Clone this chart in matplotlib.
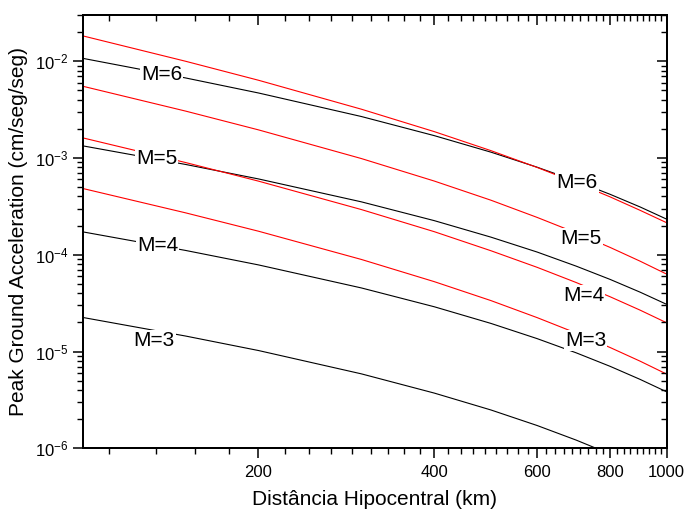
import numpy as np
import matplotlib
matplotlib.use("Agg")
import matplotlib.pyplot as plt
from matplotlib.ticker import FixedLocator, NullFormatter, LogLocator, LogFormatterSciNotation

plt.rcParams['font.family'] = ['Liberation Sans', 'DejaVu Sans']
plt.rcParams['mathtext.default'] = 'regular'

# ---- data ----
distance_km = [100, 150, 200, 300, 400, 500, 600, 700, 800, 900, 1000]

black_m6 = [1.07e-2, 6.71e-3, 4.69e-3, 2.68e-3, 1.70e-3, 1.148e-3, 8.02e-4, 5.76e-4, 4.21e-4, 3.12e-4, 2.33e-4]
black_m5 = [1.334e-3, 8.57e-4, 6.07e-4, 3.52e-4, 2.25e-4, 1.52e-4, 1.066e-4, 7.62e-5, 5.56e-5, 4.11e-5, 3.07e-5]
black_m4 = [1.724e-4, 1.108e-4, 7.85e-5, 4.54e-5, 2.90e-5, 1.952e-5, 1.359e-5, 9.69e-6, 7.03e-6, 5.16e-6, 3.83e-6]
black_m3 = [2.25e-5, 1.446e-5, 1.024e-5, 5.88e-6, 3.72e-6, 2.49e-6, 1.72e-6, 1.215e-6, 8.73e-7, 6.35e-7, 4.67e-7]

red_m6 = [1.826e-2, 9.98e-3, 6.35e-3, 3.19e-3, 1.87e-3, 1.19e-3, 7.98e-4, 5.54e-4, 3.96e-4, 2.88e-4, 2.14e-4]
red_m5 = [5.51e-3, 3.05e-3, 1.95e-3, 9.86e-4, 5.77e-4, 3.66e-4, 2.43e-4, 1.68e-4, 1.19e-4, 8.59e-5, 6.30e-5]
red_m4 = [1.613e-3, 8.97e-4, 5.76e-4, 2.93e-4, 1.73e-4, 1.10e-4, 7.41e-5, 5.16e-5, 3.68e-5, 2.68e-5, 1.98e-5]
red_m3 = [4.84e-4, 2.71e-4, 1.75e-4, 8.94e-5, 5.27e-5, 3.36e-5, 2.24e-5, 1.55e-5, 1.10e-5, 7.96e-6, 5.84e-6]

label_text = ["M=6", "M=5", "M=4", "M=3", "M=6", "M=5", "M=4", "M=3"]
label_x = [136.6, 133.9, 134.3, 132.6, 702, 712.8, 720, 726]
label_y = [7.2e-3, 9.9e-4, 1.24e-4, 1.31e-5, 5.53e-4, 1.47e-4, 3.83e-5, 1.29e-5]

x_major = [200, 400, 600, 800, 1000]
x_labels = ["200", "400", "600", "800", "1000"]

# ---- figure ----
fig = plt.figure(figsize=(6.85, 5.13), dpi=100)
ax = fig.add_axes([0.1207, 0.1261, 0.8526, 0.8447])

for ys in [black_m6, black_m5, black_m4, black_m3]:
    ax.plot(distance_km, ys, color='black', lw=0.8, zorder=2)
for ys in [red_m6, red_m5, red_m4, red_m3]:
    ax.plot(distance_km, ys, color='red', lw=0.8, zorder=2)

for t, lx, ly in zip(label_text, label_x, label_y):
    ax.text(lx, ly, t, fontsize=15, ha='center', va='center', zorder=5,
            bbox=dict(facecolor='white', edgecolor='none', pad=0.8))

ax.set_xscale('log')
ax.set_yscale('log')
xlim = (100, 1000)
ylim = (1e-6, 3e-2)
ax.set_xlim(*xlim)
ax.set_ylim(*ylim)

step = 200 / 9
minor_x = [v for v in np.arange(step, 1000, step)
           if v > 100 and abs(v / 200 - round(v / 200)) > 1e-3]

def style_x(a):
    a.xaxis.set_major_locator(FixedLocator(x_major))
    a.xaxis.set_minor_locator(FixedLocator(minor_x))
    a.xaxis.set_minor_formatter(NullFormatter())

def style_y(a):
    a.yaxis.set_major_locator(LogLocator(base=10, numticks=20))
    a.yaxis.set_minor_locator(LogLocator(base=10, subs=np.arange(2, 10), numticks=20))
    a.yaxis.set_minor_formatter(NullFormatter())

style_x(ax)
style_y(ax)
ax.set_xticklabels(x_labels)
ax.yaxis.set_major_formatter(LogFormatterSciNotation())
ax.tick_params(which='major', direction='out', length=7, width=1.1, labelsize=12)
ax.tick_params(which='minor', direction='out', length=4, width=1.0)
ax.tick_params(axis='x', pad=5)

# mirrored axes with inward ticks
axt = ax.twiny()
axt.set_xscale('log')
axt.set_xlim(*xlim)
style_x(axt)
axt.tick_params(axis='x', which='major', direction='in', length=7, width=1.1, labeltop=False)
axt.tick_params(axis='x', which='minor', direction='in', length=4, width=1.0)

axr = ax.twinx()
axr.set_yscale('log')
axr.set_ylim(*ylim)
style_y(axr)
axr.tick_params(axis='y', which='major', direction='in', length=7, width=1.1, labelright=False)
axr.tick_params(axis='y', which='minor', direction='in', length=4, width=1.0)

for a in (ax, axt, axr):
    for s in a.spines.values():
        s.set_linewidth(1.4)

ax.set_xlabel("Distância Hipocentral (km)", fontsize=15, labelpad=7)
ax.set_ylabel("Peak Ground Acceleration (cm/seg/seg)", fontsize=15, labelpad=5)

fig.savefig("out.png", dpi=100)
